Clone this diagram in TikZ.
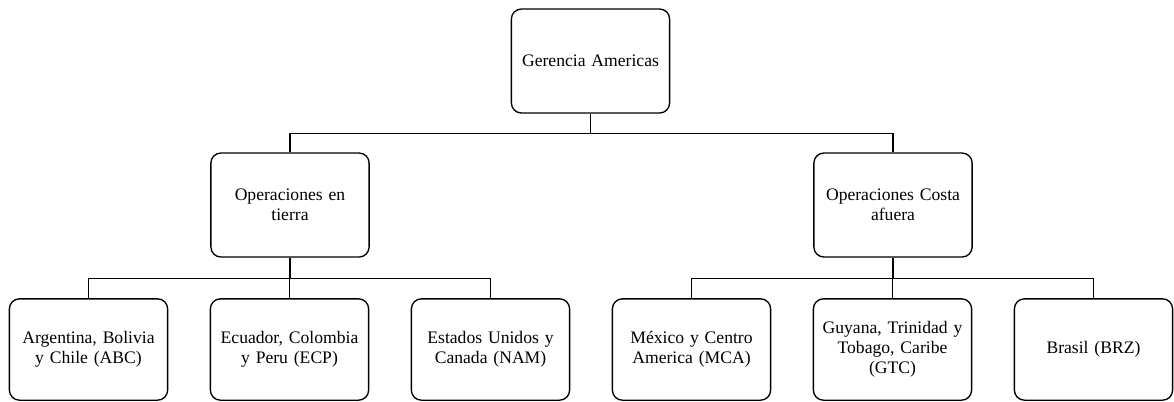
\documentclass[tikz,border=0pt]{standalone}
\usepackage{fontspec}
\setmainfont{Liberation Serif}
\usetikzlibrary{positioning}
\tikzstyle{unit} = [rectangle, rounded corners=7.5pt, minimum width=116pt, minimum height=78pt, text centered, text width=112pt, draw=black, line width=1pt, font=\fontsize{13.2}{15}\selectfont]
\tikzstyle{country} = [unit, minimum height=76pt]
\tikzstyle{branch} = [line width=0.8pt]

\begin{document}
\begin{tikzpicture}[x=0.75pt, y=-0.75pt, node distance=150.75pt]
\useasboundingbox (0,0) rectangle (1174,401);
\node (gerencia) [unit] at (590.5,61) {Gerencia Americas};
\node (tierra) [unit] at (290,205) {Operaciones en\\ tierra};
\node (costa) [unit] at (893,205) {Operaciones Costa\\ afuera};

\node (abc) [country] at (88.5,349.5) {Argentina, Bolivia\\ y Chile (ABC)};
\node (ecp) [country, right of=abc] {Ecuador, Colombia\\ y Peru (ECP)};
\node (nam) [country, right of=ecp] {Estados Unidos y\\ Canada (NAM)};
\node (mca) [country, right of=nam] {México y Centro\\ America (MCA)};
\node (gtc) [country, right of=mca] {Guyana, Trinidad y\\ Tobago, Caribe\\ (GTC)};
\node (brz) [country, right of=gtc] {Brasil (BRZ)};

\draw [branch] (gerencia.south) -- ++(0,-15pt) -| (tierra.north);
\draw [branch] (gerencia.south) -- ++(0,-15pt) -| (costa.north);
\draw [branch] (tierra.south) -- ++(0,-15.75pt) -| (abc.north);
\draw [branch] (tierra.south) -- ++(0,-15.75pt) -| (ecp.north);
\draw [branch] (tierra.south) -- ++(0,-15.75pt) -| (nam.north);
\draw [branch] (costa.south) -- ++(0,-15.75pt) -| (mca.north);
\draw [branch] (costa.south) -- ++(0,-15.75pt) -| (gtc.north);
\draw [branch] (costa.south) -- ++(0,-15.75pt) -| (brz.north);
\end{tikzpicture}
\end{document}
